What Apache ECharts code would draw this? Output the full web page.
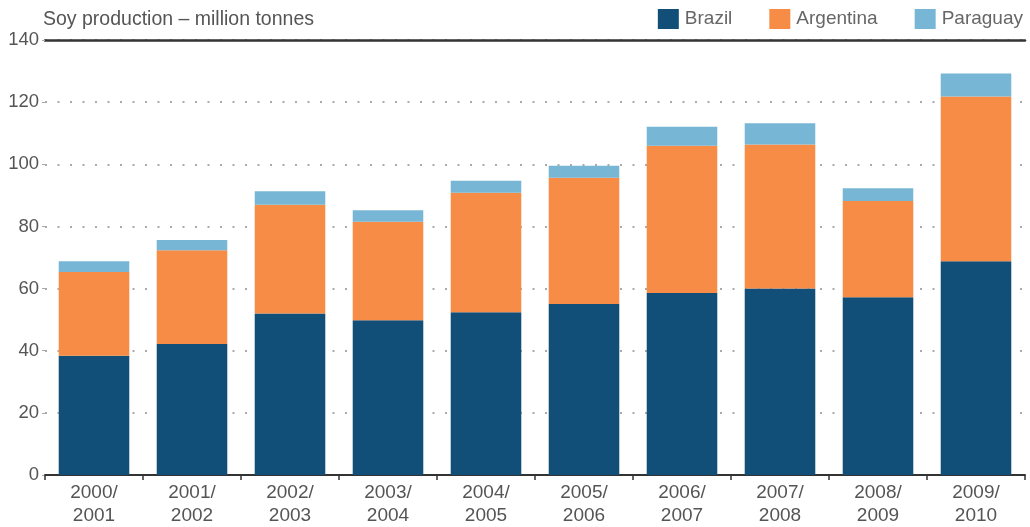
<!DOCTYPE html>
<html>
<head>
<meta charset="utf-8">
<script src="https://cdn.jsdelivr.net/npm/echarts@6/dist/echarts.min.js"></script>
<style>
html,body{margin:0;padding:0;background:#fff;}
#chart{width:1030px;height:527px;}
</style>
</head>
<body>
<div id="chart"></div>
<script>
const categories = ['2000/\n2001','2001/\n2002','2002/\n2003','2003/\n2004','2004/\n2005','2005/\n2006','2006/\n2007','2007/\n2008','2008/\n2009','2009/\n2010'];
const brazil    = [38.4, 42.2, 52.0, 49.8, 52.4, 55.0, 58.6, 60.0, 57.2, 68.8];
const argentina = [26.9, 30.1, 35.0, 31.7, 38.4, 40.7, 47.4, 46.4, 31.0, 53.0];
const paraguay  = [3.5, 3.3, 4.3, 3.7, 3.9, 3.8, 6.1, 6.8, 4.1, 7.4];
const yTicks = { min: 0, max: 140, interval: 20 };

const FONT = "'Liberation Sans', Arial, sans-serif";
const chart = echarts.init(document.getElementById('chart'), null, {renderer: 'canvas'});
chart.setOption({
  animation: false,
  title: {
    text: 'Soy production – million tonnes',
    left: 38, top: 5,
    textStyle: {fontFamily: FONT, fontSize: 19.5, fontWeight: 'normal', color: '#555'}
  },
  legend: {
    right: 2, top: 4,
    itemWidth: 21, itemHeight: 20, itemGap: 37,
    icon: 'rect',
    textStyle: {fontFamily: FONT, fontSize: 19, color: '#666', padding: [0, 0, 0, 1]},
    data: ['Brazil', 'Argentina', 'Paraguay']
  },
  grid: {left: 45, right: 5, top: 40, bottom: 48},
  xAxis: [{
    type: 'category',
    data: categories,
    axisLine: {lineStyle: {color: '#333', width: 2}},
    axisTick: {show: true, length: 5, lineStyle: {color: '#333', width: 1.5}},
    axisLabel: {fontFamily: FONT, fontSize: 19, color: '#555', lineHeight: 23, margin: 6}
  }, {
    type: 'category',
    data: categories,
    position: 'top',
    axisLine: {lineStyle: {color: '#333', width: 2.5}},
    axisTick: {show: false},
    axisLabel: {show: false}
  }],
  yAxis: {
    type: 'value',
    min: yTicks.min, max: yTicks.max, interval: yTicks.interval,
    axisLine: {show: false},
    axisTick: {show: true, length: 3, lineStyle: {color: '#aaa'}},
    axisLabel: {fontFamily: FONT, fontSize: 18.5, color: '#555', margin: 6},
    splitLine: {show: true, lineStyle: {color: '#aaa', width: 2, type: [2, 10.5]}}
  },
  series: [
    {name: 'Brazil', type: 'bar', stack: 'soy', data: brazil, barCategoryGap: '28%', itemStyle: {color: '#114e78'}},
    {name: 'Argentina', type: 'bar', stack: 'soy', data: argentina, itemStyle: {color: '#f68c46'}},
    {name: 'Paraguay', type: 'bar', stack: 'soy', data: paraguay, itemStyle: {color: '#77b6d4'}}
  ]
});
</script>
</body>
</html>
